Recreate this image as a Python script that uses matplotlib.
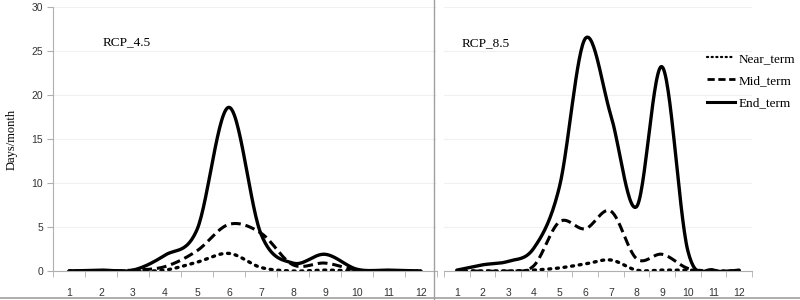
import numpy as np
import matplotlib
matplotlib.use("Agg")
import matplotlib.pyplot as plt
from matplotlib.lines import Line2D

plt.rcParams['font.family'] = ['Liberation Serif', 'DejaVu Serif']

months = [1, 2, 3, 4, 5, 6, 7, 8, 9, 10, 11, 12]
month_labels = ["1", "2", "3", "4", "5", "6", "7", "8", "9", "10", "11", "12"]

rcp45_near = [0, 0, 0, 0.1, 1.0, 2.0, 0.4, 0.0, 0.1, 0.0, 0, 0]
rcp45_mid = [0, 0, 0.1, 0.5, 2.3, 5.3, 4.3, 0.7, 0.9, 0.1, 0, 0]
rcp45_end = [0, 0.1, 0.1, 1.8, 4.7, 18.6, 4.2, 0.9, 1.9, 0.2, 0.1, 0]

rcp85_near = [0, 0, 0, 0.1, 0.35, 0.8, 1.25, 0.1, 0.1, 0.1, 0, 0]
rcp85_mid = [0, 0, 0, 0.6, 5.6, 4.8, 6.8, 1.4, 1.9, 0.3, 0, 0]
rcp85_end = [0.1, 0.7, 1.1, 2.6, 9.6, 26.4, 17.7, 7.3, 23.2, 2.3, 0.1, 0.1]

series_names = ["Near_term", "Mid_term", "End_term"]
panel_titles = ["RCP_4.5", "RCP_8.5"]


def smooth(x, y, n=30):
    x = np.asarray(x, float)
    y = np.asarray(y, float)
    px = np.concatenate([[x[0]], x, [x[-1]]])
    py = np.concatenate([[y[0]], y, [y[-1]]])
    xs, ys = [], []
    t = np.linspace(0, 1, n, endpoint=False)
    for i in range(1, len(px) - 2):
        p0, p1, p2, p3 = py[i - 1], py[i], py[i + 1], py[i + 2]
        q0, q1, q2, q3 = px[i - 1], px[i], px[i + 1], px[i + 2]
        c1y = p1 + (p2 - p0) / 6
        c2y = p2 - (p3 - p1) / 6
        c1x = q1 + (q2 - q0) / 6
        c2x = q2 - (q3 - q1) / 6
        b0 = (1 - t) ** 3
        b1 = 3 * (1 - t) ** 2 * t
        b2 = 3 * (1 - t) * t ** 2
        b3 = t ** 3
        xs.append(b0 * q1 + b1 * c1x + b2 * c2x + b3 * q2)
        ys.append(b0 * p1 + b1 * c1y + b2 * c2y + b3 * p2)
    xs.append([x[-1]])
    ys.append([y[-1]])
    return np.concatenate(xs), np.concatenate(ys)


fig = plt.figure(figsize=(8, 3), dpi=100)
H = 300.0
W = 800.0
bottom = (H - 271) / H
height = (271 - 7) / H
ax1 = fig.add_axes([53 / W, bottom, (437 - 53) / W, height])
ax2 = fig.add_axes([444 / W, bottom, (752 - 444) / W, height])

styles = [
    dict(linestyle=(0, (0.6, 1.7)), dash_capstyle='round', linewidth=2.4),
    dict(linestyle=(0, (3.2, 1.6)), linewidth=2.2),
    dict(linestyle='-', linewidth=2.4),
]
legend_styles = [
    dict(linestyle=(0, (0.5, 1.6)), dash_capstyle='round', linewidth=1.6),
    dict(linestyle=(0, (2.6, 1.3)), linewidth=2.0),
    dict(linestyle='-', linewidth=2.2),
]

grey = '#b0b0b0'
tick_font = dict(family=['Liberation Sans', 'DejaVu Sans'], size=7.5)
for ax, data, title in [
    (ax1, [rcp45_near, rcp45_mid, rcp45_end], panel_titles[0]),
    (ax2, [rcp85_near, rcp85_mid, rcp85_end], panel_titles[1]),
]:
    for vals, st in zip(data, styles):
        xs, ys = smooth(months, vals)
        ax.plot(xs, ys, color='black', solid_capstyle='round', **st)
    ax.set_xlim(0.5, 12.5)
    ax.set_ylim(0, 30)
    ax.set_xticks(months)
    ax.set_xticklabels(month_labels, fontdict=tick_font, color='#333333')
    ax.set_xticks(np.arange(0.5, 13, 1), minor=True)
    ax.tick_params(axis='x', which='major', length=0, pad=12)
    ax.tick_params(axis='x', which='minor', length=4, color=grey, direction='out')
    for s in ['top', 'right']:
        ax.spines[s].set_visible(False)
    ax.spines['bottom'].set_color(grey)
    ax.spines['left'].set_color(grey)
    ax.set_yticks([0, 5, 10, 15, 20, 25, 30])
    ax.grid(axis='y', color='#f0f0f0', linewidth=0.8)
    ax.set_axisbelow(True)

ax1.text((103 - 53) / (437 - 53), (271 - 42) / 264, panel_titles[0],
         transform=ax1.transAxes, fontsize=9.5, ha='left', va='center')
ax2.text((462 - 444) / (752 - 444), (271 - 43) / 264, panel_titles[1],
         transform=ax2.transAxes, fontsize=9.5, ha='left', va='center')

ax1.set_yticklabels(["0", "5", "10", "15", "20", "25", "30"],
                    fontdict=tick_font, color='#333333')
ax1.tick_params(axis='y', length=4, color=grey, pad=3)
ax1.set_ylabel("Days/month", fontsize=9, labelpad=10)
ax2.spines['left'].set_visible(False)
ax2.tick_params(axis='y', left=False, labelleft=False)

# separator and bottom border
fig.add_artist(Line2D([434 / W, 434 / W], [0, 1], transform=fig.transFigure,
                      color='#a0a0a0', linewidth=1))
fig.add_artist(Line2D([0, 1], [2 / H, 2 / H], transform=fig.transFigure,
                      color='#a0a0a0', linewidth=1.2))

handles = [Line2D([], [], color='black', **st) for st in legend_styles]
fig.legend(handles, series_names, loc='center left',
           bbox_to_anchor=(707 / W, 1 - 81 / H), frameon=False, fontsize=9.5,
           handlelength=2.1, handletextpad=0.3, labelspacing=0.75,
           borderaxespad=0, borderpad=0)

fig.savefig("out.png", dpi=100)
